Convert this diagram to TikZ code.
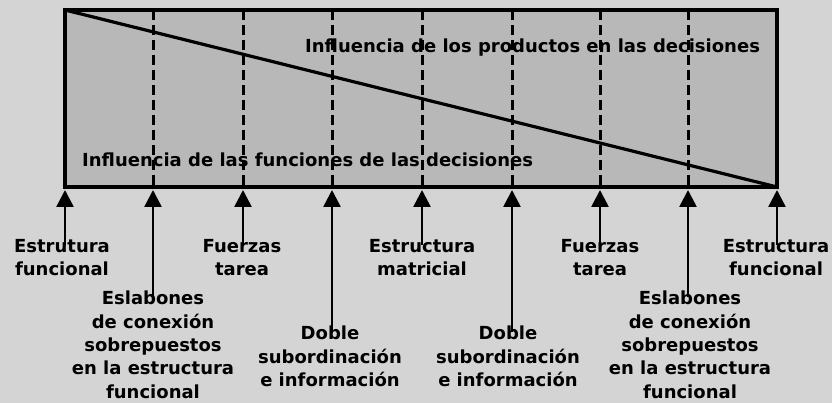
\documentclass[tikz,border=0pt]{standalone}
\usepackage{fontspec}
\setmainfont{DejaVu Sans}
\usetikzlibrary{arrows.meta}
\definecolor{bgout}{gray}{0.83}
\definecolor{bgin}{gray}{0.72}
\tikzset{
  lbl/.style={anchor=north, align=center, inner sep=0pt, font=\bfseries\fontsize{18}{23.3}\selectfont},
  infl/.style={inner sep=0pt, font=\bfseries\fontsize{18}{22}\selectfont},
  arr/.style={line width=2.6pt, shorten >=3pt, -{Triangle[length=17pt,width=17pt]}},
  divider/.style={line width=3pt, dash pattern=on 10pt off 5pt},
  frame/.style={line width=3.2pt},
}
\begin{document}
\begin{tikzpicture}[x=1pt,y=-1pt]
\useasboundingbox (0,0) rectangle (832,403);
\fill[bgout] (0,0) rectangle (832,403);
% box
\coordinate (tl) at (65,10);
\coordinate (br) at (777,187);
\fill[bgin] (tl) rectangle (br);
% dividers
\foreach \i/\x in {2/153,3/243,4/332,5/422,6/512,7/600,8/688}{
  \coordinate (t\i) at (\x,10);
  \coordinate (b\i) at (\x,187);
  \draw[divider] (t\i) -- (b\i);
}
\coordinate (b1) at (65,187);
\coordinate (b9) at (777,187);
\draw[frame] (tl) rectangle (br);
\draw[frame] (tl) -- (br);
% inner texts
\node[infl, anchor=base west] (prod) at (305,53) {Influencia de los productos en las decisiones};
\node[infl, anchor=base west] (func) at (82,167) {Influencia de las funciones de las decisiones};
% labels
\node[lbl] (l1) at (62,239) {Estrutura\\funcional};
\node[lbl] (l2) at (153,291) {Eslabones\\de conexión\\sobrepuestos\\en la estructura\\funcional};
\node[lbl] (l3) at (242,239) {Fuerzas\\tarea};
\node[lbl] (l4) at (330,326) {Doble\\subordinación\\e información};
\node[lbl] (l5) at (422,239) {Estructura\\matricial};
\node[lbl] (l6) at (508,326) {Doble\\subordinación\\e información};
\node[lbl] (l7) at (600,239) {Fuerzas\\tarea};
\node[lbl] (l8) at (690,291) {Eslabones\\de conexión\\sobrepuestos\\en la estructura\\funcional};
\node[lbl] (l9) at (776,239) {Estructura\\funcional};
% arrows
\foreach \i in {1,...,9}{
  \draw[arr] ([yshift=-6pt]l\i.north -| b\i) -- (b\i);
}
\end{tikzpicture}
\end{document}
